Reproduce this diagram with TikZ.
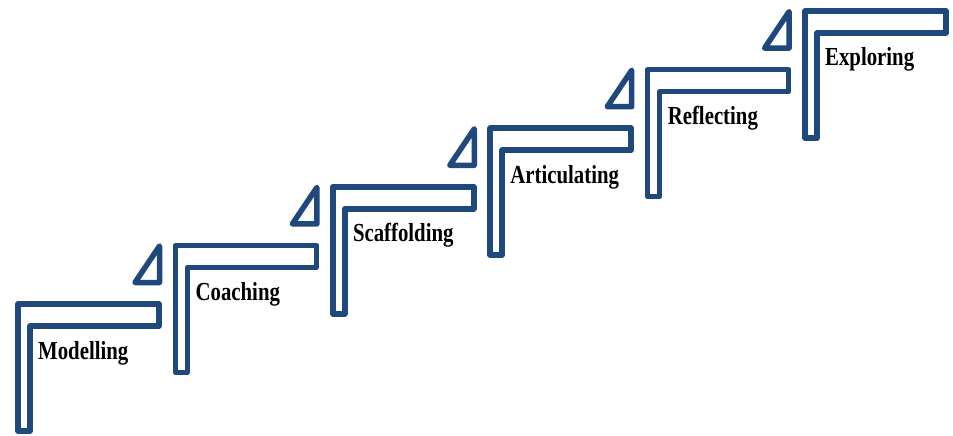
\documentclass[tikz,border=0pt]{standalone}
\usepackage{fontspec}
\newfontfamily\stepfont{Liberation Serif}[FakeStretch=0.8]
\usetikzlibrary{positioning}
\definecolor{stairblue}{RGB}{31,73,125}

\begin{document}
\begin{tikzpicture}[
        x=1pt, y=-1pt,
        stair/.style={draw=stairblue, line width=5.5pt, fill=white, line join=round},
        wedge/.style={draw=stairblue, line width=5.5pt, fill=white, line join=round},
        stage/.style={font=\stepfont\bfseries\fontsize{26}{26}\selectfont, text=black, inner sep=0pt, anchor=base west},
        ]
        \useasboundingbox (0,0) rectangle (953,436);
        % one step per stage, going up to the right
        \foreach \name [count=\i from 0] in {Modelling,Coaching,Scaffolding,Articulating,Reflecting,Exploring} {
          \coordinate (s_\i) at (18+157.4*\i, 304-58.6*\i);
          \draw[stair] (s_\i) -- ++(141,0) -- ++(0,22) -- ++(-129,0) -- ++(0,105) -- ++(-12,0) -- cycle;
          \node[stage] (l_\i) at ([shift={(20,55)}]s_\i) {\name};
        }
        % small wedges between the steps
        \foreach \i in {0,...,4} {
          \draw[wedge] ([shift={(141.5,-58)}]s_\i) -- ([shift={(141.5,-21.5)}]s_\i) -- ([shift={(117,-21.5)}]s_\i) -- cycle;
        }
      \end{tikzpicture}
\end{document}
